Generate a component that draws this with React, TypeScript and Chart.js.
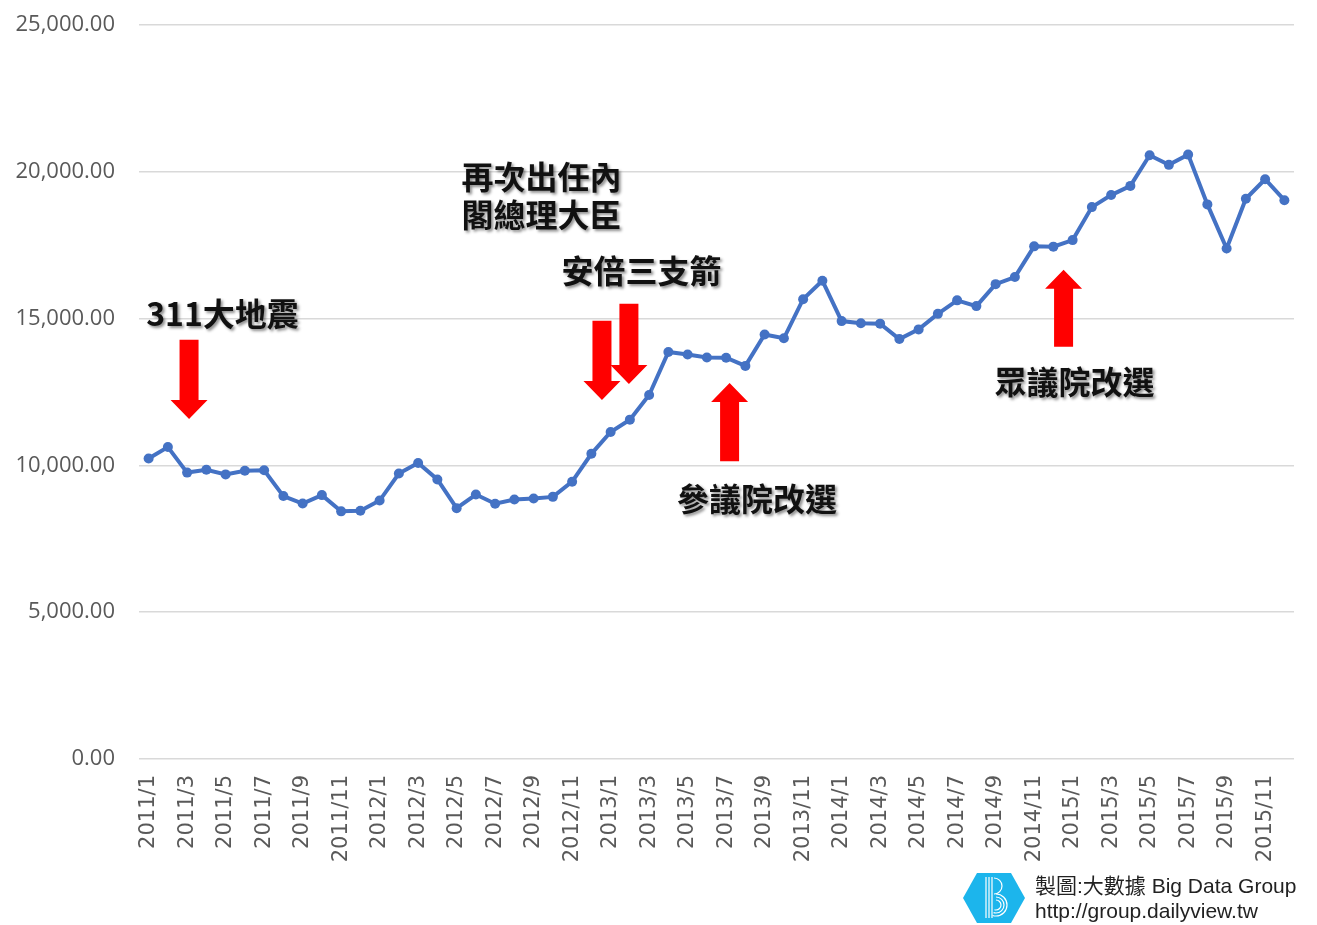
import React, { useEffect, useRef } from "react";
import { Chart, registerables } from "chart.js";
Chart.register(...registerables);

const months: string[] = [
  "2011/1","2011/2","2011/3","2011/4","2011/5","2011/6","2011/7","2011/8","2011/9","2011/10","2011/11","2011/12",
  "2012/1","2012/2","2012/3","2012/4","2012/5","2012/6","2012/7","2012/8","2012/9","2012/10","2012/11","2012/12",
  "2013/1","2013/2","2013/3","2013/4","2013/5","2013/6","2013/7","2013/8","2013/9","2013/10","2013/11","2013/12",
  "2014/1","2014/2","2014/3","2014/4","2014/5","2014/6","2014/7","2014/8","2014/9","2014/10","2014/11","2014/12",
  "2015/1","2015/2","2015/3","2015/4","2015/5","2015/6","2015/7","2015/8","2015/9","2015/10","2015/11","2015/12",
];

const nikkei: number[] = [
  10238, 10624, 9755, 9850, 9694, 9816, 9833, 8955, 8700, 8988, 8435, 8455,
  8803, 9723, 10084, 9521, 8543, 9007, 8695, 8840, 8870, 8928, 9446, 10395,
  11139, 11559, 12398, 13861, 13775, 13677, 13668, 13389, 14456, 14328, 15662, 16291,
  14915, 14841, 14828, 14304, 14632, 15162, 15621, 15425, 16174, 16414, 17460, 17451,
  17674, 18798, 19207, 19520, 20563, 20236, 20585, 18890, 17388, 19083, 19747, 19034,
];

const yTicks: number[] = [0, 5000, 10000, 15000, 20000, 25000];

// annotations anchored to data coordinates (x = category index, y = value)
const arrowX: number[] = [2.1, 23.55, 24.95, 30.18, 47.53];
const arrowFrom: number[] = [14276, 14925, 15505, 10143, 14037];
const arrowTo: number[] = [11578, 12227, 12773, 12807, 16667];

const noteLines: string[][] = [
  ["311大地震"],
  ["再次出任內", "閣總理大臣"],
  ["安倍三支箭"],
  ["參議院改選"],
  ["眾議院改選"],
];
const noteX: number[] = [3.84, 20.41, 25.61, 31.6, 48.1];
const noteY: number[] = [15164, 19843, 16633, 8846, 12842];

const annotationPlugin = {
  id: "annotations",
  afterDatasetsDraw(chart: any) {
    const ctx: CanvasRenderingContext2D = chart.ctx;
    const xs = chart.scales.x;
    const ys = chart.scales.y;
    ctx.save();
    ctx.fillStyle = "#FF0000";
    for (let i = 0; i < arrowX.length; i++) {
      const cx = xs.getPixelForValue(arrowX[i]);
      const y0 = ys.getPixelForValue(arrowFrom[i]);
      const y1 = ys.getPixelForValue(arrowTo[i]);
      const dir = y1 > y0 ? 1 : -1;
      const sw = 9.5;
      const hw = 18.5;
      const hl = 19;
      const hy = y1 - dir * hl;
      ctx.beginPath();
      ctx.moveTo(cx - sw, y0);
      ctx.lineTo(cx + sw, y0);
      ctx.lineTo(cx + sw, hy);
      ctx.lineTo(cx + hw, hy);
      ctx.lineTo(cx, y1);
      ctx.lineTo(cx - hw, hy);
      ctx.lineTo(cx - sw, hy);
      ctx.closePath();
      ctx.fill();
    }
    ctx.font = 'bold 32px "Noto Sans CJK TC", "Noto Sans CJK SC", sans-serif';
    ctx.textAlign = "center";
    ctx.textBaseline = "middle";
    ctx.shadowColor = "rgba(0,0,0,0.45)";
    ctx.shadowOffsetX = 2;
    ctx.shadowOffsetY = 2;
    ctx.shadowBlur = 3;
    ctx.fillStyle = "#111111";
    for (let i = 0; i < noteLines.length; i++) {
      const cx = xs.getPixelForValue(noteX[i]);
      const cy = ys.getPixelForValue(noteY[i]);
      noteLines[i].forEach((t, j) => ctx.fillText(t, cx, cy + j * 38));
    }
    ctx.restore();
  },
  afterDraw(chart: any) {
    const ctx: CanvasRenderingContext2D = chart.ctx;
    ctx.save();
    ctx.fillStyle = "#1CB5EC";
    ctx.beginPath();
    ctx.moveTo(963, 898);
    ctx.lineTo(977, 873);
    ctx.lineTo(1011, 873);
    ctx.lineTo(1025, 898);
    ctx.lineTo(1011, 923);
    ctx.lineTo(977, 923);
    ctx.closePath();
    ctx.fill();
    ctx.strokeStyle = "#ffffff";
    ctx.lineWidth = 1.2;
    for (const x of [986, 989, 992]) {
      ctx.beginPath();
      ctx.moveTo(x, 877);
      ctx.lineTo(x, 918);
      ctx.stroke();
    }
    ctx.beginPath();
    ctx.arc(994, 886, 8, -Math.PI / 2, Math.PI / 2);
    ctx.stroke();
    for (const r of [5, 8, 11]) {
      ctx.beginPath();
      ctx.arc(996, 905, r, -Math.PI / 2, Math.PI * 0.6);
      ctx.stroke();
    }
    ctx.fillStyle = "#222222";
    ctx.textAlign = "left";
    ctx.textBaseline = "middle";
    ctx.font = '21px "Liberation Sans", "Noto Sans CJK TC", sans-serif';
    ctx.fillText("製圖:大數據 Big Data Group", 1035, 887);
    ctx.fillText("http://group.dailyview.tw", 1035, 912);
    ctx.restore();
  },
};

export default function App() {
  const ref = useRef<HTMLCanvasElement | null>(null);
  useEffect(() => {
    if (!ref.current) return;
    const chart = new Chart(ref.current, {
      type: "line",
      data: {
        labels: months,
        datasets: [
          {
            data: nikkei,
            borderColor: "#4472C4",
            backgroundColor: "#4472C4",
            borderWidth: 4,
            pointRadius: 5,
            pointBackgroundColor: "#4472C4",
            pointBorderWidth: 0,
            tension: 0,
          },
        ],
      },
      options: {
        animation: false,
        responsive: false,
        layout: { padding: { left: 0, right: 23, top: 25, bottom: 0 } },
        plugins: { legend: { display: false }, tooltip: { enabled: false } },
        scales: {
          x: {
            offset: true,
            grid: { display: false, drawTicks: false },
            border: { display: false },
            ticks: {
              autoSkip: false,
              maxRotation: 90,
              minRotation: 90,
              padding: 16,
              color: "#595959",
              font: { family: '"DejaVu Sans", sans-serif', size: 21 },
              callback: (v: any, i: number) => (i % 2 === 0 ? months[i] : ""),
            },
            afterFit: (s: any) => {
              s.height = 166;
              s.paddingLeft = 0;
              s.paddingRight = 0;
            },
          },
          y: {
            min: 0,
            max: 25000,
            afterBuildTicks: (s: any) => {
              s.ticks = yTicks.map((v) => ({ value: v }));
            },
            grid: { color: "#D9D9D9", lineWidth: 1.5, drawTicks: false },
            border: { display: false },
            ticks: {
              padding: 24,
              color: "#595959",
              font: { family: '"Open Sans", sans-serif', size: 22 },
              callback: (v: any) =>
                Number(v).toLocaleString("en-US", { minimumFractionDigits: 2, maximumFractionDigits: 2 }),
            },
            afterFit: (s: any) => {
              s.width = 139;
              s.paddingTop = 0;
              s.paddingBottom = 0;
            },
          },
        },
      },
      plugins: [annotationPlugin],
    });
    return () => chart.destroy();
  }, []);
  return (
    <div style={{ position: "absolute", left: 0, top: 0, width: 1317, height: 925, background: "#fff" }}>
      <canvas ref={ref} width={1317} height={925} style={{ width: 1317, height: 925, display: "block" }} />
    </div>
  );
}
